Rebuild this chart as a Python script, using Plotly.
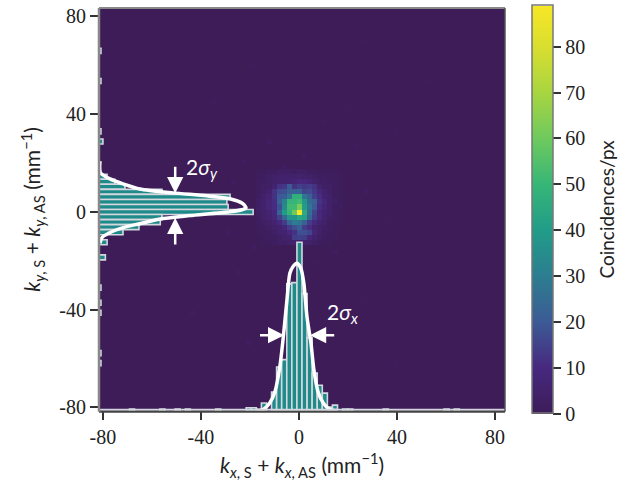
import numpy as np
import plotly.graph_objects as go

N_BINS = 80
X_RANGE = [-81.6, 84.1]
Y_RANGE = [-81.5, 83.3]
Z_MAX = 89

# central part of the coincidence map: rows 32..46 (top to bottom), columns 31..47
CORE_FIRST_ROW = 32
CORE_FIRST_COL = 31
core_counts = [
    [1, 1, 2, 2, 3, 3, 3, 2, 3, 3, 2, 2, 1, 1, 1, 1, 0],
    [1, 2, 3, 4, 4, 5, 5, 4, 6, 4, 4, 3, 2, 2, 2, 1, 1],
    [2, 2, 3, 4, 5, 5, 6, 7, 9, 9, 7, 5, 3, 3, 2, 2, 1],
    [2, 3, 3, 6, 12, 13, 20, 12, 15, 13, 14, 12, 5, 3, 3, 2, 1],
    [2, 3, 5, 12, 17, 18, 22, 22, 22, 16, 17, 13, 9, 5, 3, 2, 1],
    [2, 4, 7, 12, 20, 21, 28, 48, 48, 28, 22, 15, 11, 6, 4, 2, 1],
    [3, 5, 8, 11, 22, 32, 50, 50, 52, 38, 25, 22, 12, 8, 4, 3, 1],
    [3, 5, 8, 11, 18, 34, 52, 52, 62, 40, 28, 20, 11, 7, 4, 2, 2],
    [3, 4, 6, 9, 22, 40, 50, 60, 89, 46, 26, 16, 9, 6, 4, 2, 1],
    [2, 4, 6, 8, 15, 24, 38, 38, 44, 42, 24, 14, 10, 5, 3, 2, 1],
    [2, 3, 4, 6, 9, 14, 24, 30, 28, 22, 14, 10, 6, 4, 2, 1, 1],
    [1, 2, 3, 4, 6, 8, 14, 18, 22, 14, 11, 6, 4, 3, 2, 1, 0],
    [1, 2, 2, 3, 5, 6, 10, 12, 18, 18, 16, 8, 4, 2, 2, 1, 0],
    [0, 1, 2, 2, 3, 4, 5, 14, 15, 14, 8, 5, 3, 2, 1, 1, 0],
    [0, 1, 1, 2, 3, 3, 4, 5, 5, 5, 4, 3, 2, 1, 1, 0, 0],
]

# faint single events elsewhere on the map
sparse_rows = [6, 11, 14, 18, 20, 22, 24, 26, 27, 29, 30, 31, 34, 36, 38, 42, 44, 47, 48, 50, 52, 55, 57, 60, 63, 66, 70, 74]
sparse_cols = [52, 30, 64, 22, 48, 44, 58, 33, 50, 40, 28, 36, 26, 52, 24, 56, 25, 30, 46, 42, 27, 36, 51, 18, 44, 29, 58, 40]
sparse_vals = [1, 1, 1, 1, 1, 1, 1, 2, 1, 2, 2, 2, 2, 2, 2, 1, 2, 2, 2, 1, 2, 2, 1, 2, 1, 2, 1, 1]

# x projection bars (column index, height in axis units)
xhist_cols = [6, 12, 15, 17, 23, 29, 30, 32, 34, 35, 36, 37, 38, 39, 40, 41, 42, 43, 44, 45, 46, 48, 49, 56, 68, 70]
xhist_vals = [0.8, 0.8, 0.8, 0.8, 0.8, 1.3, 1.3, 3.3, 7.7, 18, 21, 52, 52.5, 69, 48, 30, 15.5, 10.5, 7.3, 1.6, 2.4, 0.8, 0.8, 0.8, 0.8, 0.8]

# y projection bars (row index, length in axis units)
yhist_rows = [8, 14, 24, 26, 33, 34, 35, 36, 37, 38, 39, 40, 41, 42, 43, 44, 46, 49, 55, 58, 60, 68, 70]
yhist_vals = [0.8, 0.8, 0.8, 1.6, 3.3, 6.5, 10.6, 25.7, 53.5, 52.2, 52.7, 62.9, 25.7, 25, 16.3, 9.8, 3.3, 2.6, 0.8, 0.8, 0.8, 0.8, 0.8]

# fitted profiles
xfit_x = [-17.3, -14.7, -11.8, -9.8, -7.8, -6.5, -4.9, -3.7, -2.4, -0.8, 0.8, 2.0, 3.3, 4.9, 6.1, 7.8, 9.8, 12.7, 15.5]
xfit_y = [-81.2, -80.9, -78, -73.6, -63.4, -52.4, -36.2, -25.2, -22.4, -21.1, -23.2, -29.3, -43.1, -53.7, -64.6, -73.6, -78, -80.9, -81.3]
yfit_y = [20.7, 15.9, 13.4, 11.4, 9.3, 7.7, 6.5, 5.3, 3.3, 1.6, 0.8, 0, -1.6, -2.8, -4.9, -6.5, -8.5, -10.6, -13]
yfit_x = [-81.2, -81, -77.1, -71.8, -64.9, -51.4, -37.6, -28.2, -22.9, -21.6, -23.3, -28.2, -44.5, -55.5, -64.9, -71.8, -77.1, -80.4, -81.2]

tick_vals = [-80, -40, 0, 40, 80]
tick_text = ["-80", "-40", "0", "40", "80"]
cbar_ticks = [0, 10, 20, 30, 40, 50, 60, 70, 80]

colorscale = [
    [0.0, "#3d1c58"], [0.112, "#47287f"], [0.225, "#3c5a95"], [0.34, "#2c7e90"],
    [0.45, "#219c88"], [0.56, "#36b578"], [0.67, "#6cc95f"], [0.79, "#a9d540"],
    [0.9, "#d9de2f"], [1.0, "#f7e726"],
]

z = np.zeros((N_BINS, N_BINS))
for r, row in enumerate(core_counts):
    for c, v in enumerate(row):
        z[CORE_FIRST_ROW + r, CORE_FIRST_COL + c] = v
for r, c, v in zip(sparse_rows, sparse_cols, sparse_vals):
    z[r, c] = v

dx = (X_RANGE[1] - X_RANGE[0]) / N_BINS
dy = (Y_RANGE[1] - Y_RANGE[0]) / N_BINS
x_centres = X_RANGE[0] + dx * (np.arange(N_BINS) + 0.5)
y_centres = Y_RANGE[1] - dy * (np.arange(N_BINS) + 0.5)

TEAL = "#1f8a8a"
EDGE = "#d4d8de"
SERIF = '"Liberation Serif", "Times New Roman", serif'
SANS = '"Lato", sans-serif'
BAR_EDGE_WIDTH = 1.6

fig = go.Figure()
fig.add_trace(go.Heatmap(
    x=x_centres, y=y_centres, z=z, zmin=0, zmax=Z_MAX, colorscale=colorscale,
    hoverinfo="skip",
    colorbar=dict(
        x=1.0665, xanchor="left", xpad=0, ypad=0, y=0.5, yanchor="middle", len=1.012,
        thickness=21, outlinecolor="#777777", outlinewidth=1.5,
        tickvals=cbar_ticks, ticks="outside", ticklen=8, tickwidth=2, tickcolor="#333333",
        tickfont=dict(family=SERIF, size=20, color="#222222"),
    ),
))
fig.add_trace(go.Bar(
    x=x_centres[xhist_cols], y=xhist_vals, base=Y_RANGE[0], width=dx,
    marker=dict(color=TEAL, line=dict(color=EDGE, width=BAR_EDGE_WIDTH)), hoverinfo="skip",
))
fig.add_trace(go.Bar(
    y=y_centres[yhist_rows], x=yhist_vals, base=X_RANGE[0], width=dy, orientation="h",
    marker=dict(color=TEAL, line=dict(color=EDGE, width=BAR_EDGE_WIDTH)), hoverinfo="skip",
))
for xs, ys in ((xfit_x, xfit_y), (yfit_x, yfit_y)):
    fig.add_trace(go.Scatter(x=xs, y=ys, mode="lines", hoverinfo="skip",
                             line=dict(color="white", width=3.5, shape="spline", smoothing=0.7)))

axis_common = dict(
    tickvals=tick_vals, ticktext=tick_text, ticks="outside", ticklen=8, tickwidth=2,
    tickcolor="#333333", showgrid=False, zeroline=False, showline=False,
    tickfont=dict(family=SERIF, size=20, color="#222222"),
)
NB = "\u00a0"
fig.update_layout(
    width=640, height=484, autosize=False,
    margin=dict(l=99, r=135, t=6, b=73),
    paper_bgcolor="white", plot_bgcolor="#3d1c58",
    showlegend=False, barmode="overlay",
    xaxis=dict(range=X_RANGE, **axis_common,
               title=dict(text=f"<i>k</i><sub><i>x</i>, S</sub>{NB}+{NB}<i>k</i><sub><i>x</i>, AS</sub> (mm<sup>−1</sup>)",
                          standoff=11, font=dict(family=SANS, size=21, color="#222222"))),
    yaxis=dict(range=Y_RANGE, **axis_common,
               title=dict(text=f"<i>k</i><sub><i>y</i>, S</sub>{NB}+{NB}<i>k</i><sub><i>y</i>, AS</sub> (mm<sup>−1</sup>)",
                          standoff=12, font=dict(family=SANS, size=21, color="#222222"))),
    shapes=[
        dict(type="line", xref="paper", yref="paper", x0=0, x1=1, y0=0.003, y1=0.003, line=dict(color=EDGE, width=2)),
        dict(type="line", xref="paper", yref="paper", x0=0, x1=1, y0=-0.002, y1=-0.002, line=dict(color="#444444", width=2)),
        dict(type="line", xref="paper", yref="paper", x0=0, x1=1, y0=1, y1=1, line=dict(color="#888888", width=2)),
        dict(type="line", xref="paper", yref="paper", x0=0, x1=0, y0=-0.002, y1=1, line=dict(color="#888888", width=2.5)),
        dict(type="line", xref="paper", yref="paper", x0=1, x1=1, y0=-0.002, y1=1, line=dict(color="#555555", width=1.5)),
    ],
    annotations=[
        dict(x=-50.5, y=7.5, ax=-50.5, ay=19, xref="x", yref="y", axref="x", ayref="y", text="",
             showarrow=True, arrowhead=2, arrowsize=1.3, arrowwidth=2.5, arrowcolor="white"),
        dict(x=-50.5, y=-2.5, ax=-50.5, ay=-14, xref="x", yref="y", axref="x", ayref="y", text="",
             showarrow=True, arrowhead=2, arrowsize=1.3, arrowwidth=2.5, arrowcolor="white"),
        dict(x=-6, y=-50.5, ax=-16.5, ay=-50.5, xref="x", yref="y", axref="x", ayref="y", text="",
             showarrow=True, arrowhead=2, arrowsize=1.3, arrowwidth=2.5, arrowcolor="white"),
        dict(x=4.5, y=-50.5, ax=15, ay=-50.5, xref="x", yref="y", axref="x", ayref="y", text="",
             showarrow=True, arrowhead=2, arrowsize=1.3, arrowwidth=2.5, arrowcolor="white"),
        dict(x=-46.8, y=18, xref="x", yref="y", xanchor="left", yanchor="middle", showarrow=False,
             text="2<i>σ</i><sub><i>y</i></sub>", font=dict(family=SANS, size=21, color="white")),
        dict(x=10.5, y=-41.5, xref="x", yref="y", xanchor="left", yanchor="middle", showarrow=False,
             text="2<i>σ</i><sub><i>x</i></sub>", font=dict(family=SANS, size=21, color="white")),
        dict(x=1.249, y=0.5, xref="paper", yref="paper", textangle=-90, showarrow=False,
             xanchor="center", yanchor="middle",
             text="Coincidences/px", font=dict(family=SANS, size=19, color="#222222")),
    ],
)
fig.write_html("out.html", post_script="document.body.style.margin='0';", config={"displayModeBar": False})
